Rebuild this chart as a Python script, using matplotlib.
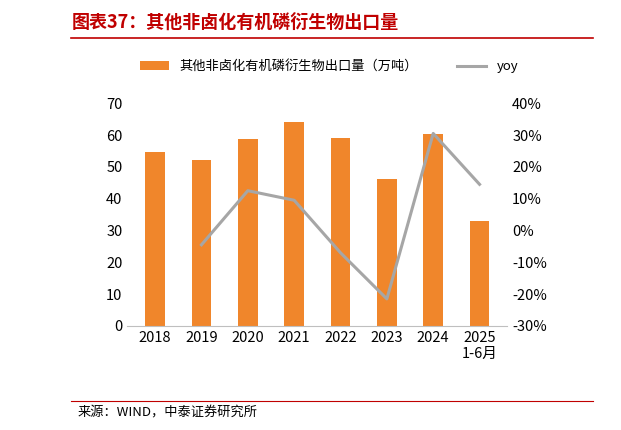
import matplotlib.pyplot as plt
from matplotlib.ticker import FuncFormatter

plt.rcParams['font.family'] = ['Noto Sans CJK SC', 'DejaVu Sans']

years = ['2018', '2019', '2020', '2021', '2022', '2023', '2024', '2025\n1-6月']
export = [54.8, 52.3, 58.7, 64.0, 59.0, 46.3, 60.2, 33.0]
yoy = [None, -4.5, 12.5, 9.5, -7.0, -21.5, 30.5, 14.5]

fig = plt.figure(figsize=(6.21, 4.30), dpi=100)
ax = fig.add_axes([0.205, 0.242, 0.612, 0.518])
x = list(range(len(years)))
ax.bar(x, export, width=0.42, color='#F0862B', label='其他非卤化有机磷衍生物出口量（万吨）')
ax.set_ylim(0, 70)
ax.set_yticks(range(0, 71, 10))
ax.set_xticks(x)
ax.set_xticklabels(years, fontsize=10.5)
ax.set_xlim(-0.6, 7.6)
ax.tick_params(axis='y', labelsize=10.5, length=0)
ax.tick_params(axis='x', length=0)
for s in ['top', 'right', 'left']:
    ax.spines[s].set_visible(False)
ax.spines['bottom'].set_color('#BFBFBF')

ax2 = ax.twinx()
ax2.plot(x[1:], yoy[1:], color='#A6A6A6', lw=2.2, label='yoy')
ax2.set_ylim(-30, 40)
ax2.set_yticks(range(-30, 41, 10))
ax2.yaxis.set_major_formatter(FuncFormatter(lambda v, p: f'{int(v)}%'))
ax2.tick_params(axis='y', labelsize=10.5, length=0)
for s in ['top', 'right', 'left', 'bottom']:
    ax2.spines[s].set_visible(False)

h1, l1 = ax.get_legend_handles_labels()
h2, l2 = ax2.get_legend_handles_labels()
fig.legend(h1 + h2, l1 + l2, loc='center', bbox_to_anchor=(0.53, 0.845), ncol=2,
           frameon=False, fontsize=9.5, handlelength=2.2, columnspacing=3)

fig.text(0.115, 0.945, '图表37：其他非卤化有机磷衍生物出口量', color='#C00000',
         fontsize=13, fontweight='bold', style='italic', va='center')
fig.add_artist(plt.Line2D([0.115, 0.955], [0.912, 0.912], color='#C00000', lw=1.2))
fig.add_artist(plt.Line2D([0.115, 0.955], [0.068, 0.068], color='#C00000', lw=0.8))
fig.text(0.125, 0.04, '来源：WIND，中泰证券研究所', fontsize=9.5, va='center')

fig.savefig('out.png')
